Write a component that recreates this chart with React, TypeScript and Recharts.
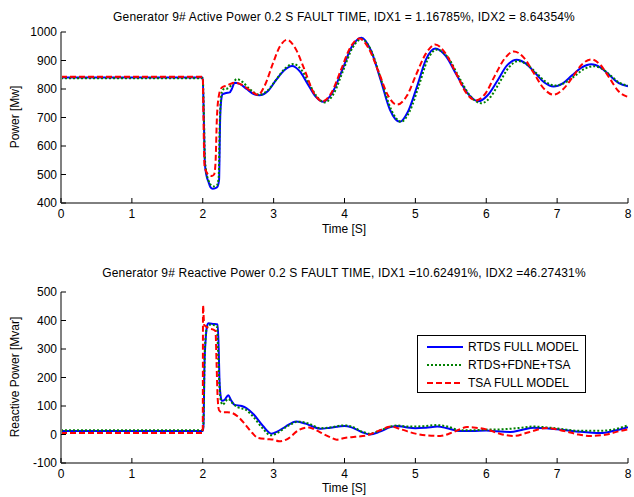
import { LineChart, Line, XAxis, YAxis } from "recharts";

const FONT = "'Liberation Sans', Arial, Helvetica, sans-serif";

const timeTicks = [0, 1, 2, 3, 4, 5, 6, 7, 8];
const activeTicks = [400, 500, 600, 700, 800, 900, 1000];
const reactiveTicks = [-100, 0, 100, 200, 300, 400, 500];

const seriesNames = ["RTDS FULL MODEL", "RTDS+FDNE+TSA", "TSA FULL MODEL"];

// active power, MW
const activeRtdsTime = [0, 2.0, 2.015, 2.03, 2.05, 2.08, 2.11, 2.14, 2.18, 2.21, 2.23, 2.245, 2.26, 2.28, 2.33, 2.38, 2.41, 2.45, 2.52, 2.62, 2.72, 2.8, 2.92, 3.03, 3.15, 3.26, 3.37, 3.48, 3.59, 3.7, 3.83, 3.97, 4.1, 4.24, 4.37, 4.51, 4.64, 4.78, 4.9, 5.03, 5.15, 5.28, 5.43, 5.58, 5.74, 5.89, 6.02, 6.16, 6.29, 6.43, 6.56, 6.69, 6.82, 6.95, 7.08, 7.21, 7.35, 7.48, 7.61, 7.74, 7.87, 8.0];
const activeRtdsPower = [840, 840, 700, 540, 500, 475, 455, 450, 452, 458, 480, 690, 760, 782, 786, 788, 800, 822, 818, 800, 782, 778, 793, 830, 866, 881, 862, 818, 774, 755, 788, 868, 947, 980, 937, 832, 728, 685, 723, 814, 904, 942, 915, 850, 784, 757, 778, 830, 882, 903, 889, 856, 823, 809, 820, 848, 876, 887, 876, 848, 821, 810];

const activeFdneTime = [0, 2.0, 2.015, 2.03, 2.05, 2.08, 2.12, 2.16, 2.2, 2.225, 2.24, 2.255, 2.27, 2.3, 2.35, 2.41, 2.48, 2.56, 2.66, 2.8, 2.92, 3.04, 3.16, 3.28, 3.39, 3.5, 3.61, 3.72, 3.85, 3.98, 4.11, 4.24, 4.38, 4.52, 4.66, 4.8, 4.92, 5.05, 5.17, 5.3, 5.46, 5.61, 5.77, 5.93, 6.06, 6.19, 6.32, 6.45, 6.58, 6.71, 6.84, 6.97, 7.11, 7.25, 7.38, 7.52, 7.64, 7.76, 7.88, 8.0];
const activeFdnePower = [838, 838, 720, 560, 510, 480, 462, 458, 462, 490, 680, 760, 790, 800, 802, 815, 835, 825, 800, 780, 796, 834, 872, 888, 868, 820, 773, 753, 785, 864, 943, 975, 933, 830, 727, 685, 722, 812, 901, 938, 911, 844, 777, 750, 772, 824, 876, 898, 885, 855, 825, 812, 822, 846, 870, 880, 870, 846, 822, 812];

const activeTsaTime = [0, 2.0, 2.01, 2.025, 2.05, 2.09, 2.13, 2.16, 2.18, 2.2, 2.23, 2.27, 2.34, 2.45, 2.55, 2.65, 2.78, 2.88, 2.99, 3.09, 3.19, 3.31, 3.44, 3.56, 3.69, 3.82, 3.95, 4.08, 4.21, 4.34, 4.48, 4.61, 4.74, 4.88, 5.01, 5.15, 5.28, 5.42, 5.57, 5.71, 5.85, 5.99, 6.12, 6.26, 6.39, 6.53, 6.67, 6.81, 6.95, 7.08, 7.22, 7.35, 7.48, 7.61, 7.74, 7.87, 8.0];
const activeTsaPower = [843, 843, 700, 530, 510, 498, 495, 500, 540, 700, 780, 805, 812, 822, 815, 798, 780, 815, 890, 950, 973, 941, 865, 789, 757, 789, 867, 945, 977, 943, 861, 779, 745, 776, 850, 925, 956, 927, 858, 789, 760, 785, 846, 907, 932, 910, 856, 802, 780, 798, 842, 886, 904, 885, 838, 791, 772];

// reactive power, Mvar
const reactiveRtdsTime = [0, 2.0, 2.01, 2.025, 2.04, 2.06, 2.08, 2.15, 2.21, 2.225, 2.235, 2.25, 2.27, 2.31, 2.36, 2.4, 2.45, 2.55, 2.62, 2.72, 2.85, 2.97, 3.05, 3.17, 3.32, 3.45, 3.55, 3.66, 3.8, 4.0, 4.1, 4.25, 4.36, 4.5, 4.65, 4.74, 4.85, 5.0, 5.15, 5.31, 5.45, 5.63, 5.8, 6.0, 6.15, 6.34, 6.5, 6.67, 6.85, 7.05, 7.3, 7.61, 7.8, 8.0];
const reactiveRtdsPower = [12, 12, 30, 250, 330, 380, 390, 388, 386, 300, 200, 140, 118, 122, 138, 120, 104, 100, 92, 70, 30, 3, 10, 28, 46, 38, 28, 20, 24, 30, 25, 8, 0, 10, 26, 30, 26, 22, 24, 28, 22, 12, 12, 14, 11, 9, 16, 24, 22, 17, 10, 5, 13, 26];

const reactiveFdneTime = [0, 2.0, 2.01, 2.025, 2.04, 2.06, 2.09, 2.15, 2.2, 2.215, 2.23, 2.25, 2.28, 2.36, 2.42, 2.5, 2.6, 2.72, 2.85, 2.96, 3.05, 3.2, 3.35, 3.5, 3.66, 3.8, 4.0, 4.1, 4.25, 4.36, 4.5, 4.65, 4.74, 4.9, 5.0, 5.15, 5.3, 5.45, 5.63, 5.8, 6.0, 6.2, 6.34, 6.5, 6.67, 6.85, 7.05, 7.3, 7.61, 7.8, 8.0];
const reactiveFdnePower = [15, 15, 40, 260, 340, 375, 385, 384, 380, 300, 200, 125, 105, 125, 110, 95, 88, 60, 20, -3, 5, 30, 45, 38, 22, 25, 32, 28, 10, 3, 14, 28, 32, 28, 28, 30, 33, 28, 15, 15, 17, 18, 20, 24, 28, 25, 20, 13, 13, 18, 32];

const reactiveTsaTime = [0, 2.0, 2.004, 2.02, 2.05, 2.1, 2.15, 2.18, 2.195, 2.21, 2.23, 2.27, 2.35, 2.42, 2.5, 2.6, 2.7, 2.78, 2.9, 3.0, 3.08, 3.2, 3.35, 3.5, 3.6, 3.7, 3.8, 3.89, 4.0, 4.15, 4.32, 4.5, 4.65, 4.8, 5.0, 5.15, 5.35, 5.55, 5.73, 5.85, 6.0, 6.2, 6.39, 6.6, 6.86, 7.1, 7.3, 7.47, 7.7, 7.85, 8.0];
const reactiveTsaPower = [5, 5, 453, 385, 378, 372, 368, 363, 250, 130, 85, 78, 78, 75, 62, 35, 5, -12, -16, -18, -24, -15, 15, 25, 15, 2, -10, -18, -12, -8, -3, 15, 28, 18, 3, -3, -5, 10, 26, 24, 18, 2, -5, 8, 23, 12, 0, -5, 0, 10, 18];

const toPoints = (t: number[], v: number[]) => t.map((x, i) => ({ t: x, v: v[i] }));

const styles = [
  { stroke: "#0000ff", dash: undefined },
  { stroke: "#008000", dash: "2 2" },
  { stroke: "#ff0000", dash: "6 3" },
];

const XTick = (props: any) => {
  const { x, y, payload } = props;
  return (
    <g>
      <line x1={x} y1={y} x2={x} y2={y - 5} stroke="#000" />
      <text x={x} y={y + 15} textAnchor="middle" fontSize={12} fontFamily={FONT} fill="#000">
        {payload.value}
      </text>
    </g>
  );
};

const YTick = (props: any) => {
  const { x, y, payload } = props;
  return (
    <g>
      <line x1={x} y1={y} x2={x + 5} y2={y} stroke="#000" />
      <text x={x - 4} y={y + 4} textAnchor="end" fontSize={12} fontFamily={FONT} fill="#000">
        {payload.value}
      </text>
    </g>
  );
};

function Panel({ series, domain, ticks }: { series: { t: number; v: number }[][]; domain: [number, number]; ticks: number[] }) {
  return (
    <LineChart width={634} height={245} margin={{ top: 32, right: 6, bottom: 12, left: 11 }}>
      <XAxis
        type="number"
        dataKey="t"
        domain={[0, 8]}
        ticks={timeTicks}
        allowDataOverflow
        height={30}
        tickSize={0}
        tickMargin={0}
        tickLine={false}
        tick={<XTick />}
        axisLine={{ stroke: "#000", strokeWidth: 1 }}
      />
      <YAxis
        type="number"
        domain={domain}
        ticks={ticks}
        allowDataOverflow
        width={50}
        tickSize={0}
        tickMargin={0}
        tickLine={false}
        tick={<YTick />}
        axisLine={{ stroke: "#808080", strokeWidth: 2 }}
      />
      {series.map((d, i) => (
        <Line
          key={seriesNames[i]}
          data={d}
          dataKey="v"
          name={seriesNames[i]}
          type="monotone"
          stroke={styles[i].stroke}
          strokeDasharray={styles[i].dash}
          strokeWidth={2}
          dot={false}
          activeDot={false}
          isAnimationActive={false}
        />
      ))}
    </LineChart>
  );
}

const textStyle = {
  position: "absolute" as const,
  fontFamily: FONT,
  fontSize: 12,
  lineHeight: "14px",
  whiteSpace: "nowrap" as const,
  color: "#000",
};

export default function App() {
  const active = [
    toPoints(activeRtdsTime, activeRtdsPower),
    toPoints(activeFdneTime, activeFdnePower),
    toPoints(activeTsaTime, activeTsaPower),
  ];
  const reactive = [
    toPoints(reactiveRtdsTime, reactiveRtdsPower),
    toPoints(reactiveFdneTime, reactiveFdnePower),
    toPoints(reactiveTsaTime, reactiveTsaPower),
  ];

  return (
    <div style={{ position: "relative", width: 634, height: 497, background: "#fff", overflow: "hidden" }}>
      <style>{"body{margin:0}"}</style>
      <div style={{ position: "absolute", left: 0, top: 0 }}>
        <Panel series={active} domain={[400, 1000]} ticks={activeTicks} />
      </div>
      <div style={{ position: "absolute", left: 0, top: 260 }}>
        <Panel series={reactive} domain={[-100, 500]} ticks={reactiveTicks} />
      </div>

      <div style={{ ...textStyle, left: 344, top: 10, letterSpacing: 0.18, transform: "translateX(-50%)" }}>
        Generator 9# Active Power 0.2 S FAULT TIME, IDX1 = 1.16785%, IDX2 = 8.64354%
      </div>
      <div style={{ ...textStyle, left: 344, top: 266, letterSpacing: 0.18, transform: "translateX(-50%)" }}>
        Generator 9# Reactive Power 0.2 S FAULT TIME, IDX1 =10.62491%, IDX2 =46.27431%
      </div>
      <div style={{ ...textStyle, left: 344, top: 222, transform: "translateX(-50%)" }}>Time [S]</div>
      <div style={{ ...textStyle, left: 344, top: 481, transform: "translateX(-50%)" }}>Time [S]</div>
      <div style={{ ...textStyle, left: 15, top: 117, transform: "translate(-50%, -50%) rotate(-90deg)" }}>
        Power [Mw]
      </div>
      <div style={{ ...textStyle, left: 15, top: 377, transform: "translate(-50%, -50%) rotate(-90deg)" }}>
        Reactive Power [Mvar]
      </div>

      <div
        style={{
          position: "absolute",
          left: 417,
          top: 335,
          width: 169,
          height: 58,
          boxSizing: "border-box",
          border: "1px solid #000",
          background: "#fff",
        }}
      >
        {seriesNames.map((name, i) => (
          <div key={name} style={{ position: "absolute", left: 0, top: 3 + i * 18, height: 16, width: 167 }}>
            <svg width={40} height={16} style={{ position: "absolute", left: 8, top: 0 }}>
              <line
                x1={1}
                y1={8}
                x2={37}
                y2={8}
                stroke={styles[i].stroke}
                strokeWidth={2}
                strokeDasharray={styles[i].dash}
              />
            </svg>
            <div style={{ ...textStyle, left: 50, top: 1 }}>{name}</div>
          </div>
        ))}
      </div>
    </div>
  );
}
